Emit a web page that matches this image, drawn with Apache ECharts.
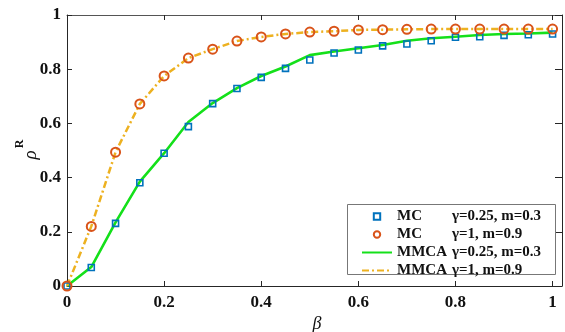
<!DOCTYPE html>
<html>
<head>
<meta charset="utf-8">
<script src="https://cdn.jsdelivr.net/npm/echarts@6/dist/echarts.min.js"></script>
<style>
  html, body { margin: 0; padding: 0; background: #fff; }
  #chart { width: 565px; height: 332px; }
</style>
</head>
<body>
<div id="chart"></div>
<script>
// beta values shared by every curve
const beta = [0, 0.05, 0.1, 0.15, 0.2, 0.25, 0.3, 0.35, 0.4, 0.45, 0.5,
              0.55, 0.6, 0.65, 0.7, 0.75, 0.8, 0.85, 0.9, 0.95, 1];

// MC simulations (markers)
const mcLow = [0, 0.068, 0.231, 0.381, 0.49, 0.588, 0.673, 0.729, 0.770, 0.803, 0.834,
               0.860, 0.871, 0.886, 0.893, 0.905, 0.918, 0.920, 0.925, 0.927, 0.930];
const mcHigh = [0, 0.22, 0.494, 0.672, 0.775, 0.841, 0.874, 0.904, 0.919, 0.930, 0.937,
                0.940, 0.945, 0.946, 0.947, 0.948, 0.948, 0.948, 0.948, 0.948, 0.948];

// MMCA predictions (lines)
const mmcaLow = [0, 0.07, 0.235, 0.385, 0.49, 0.605, 0.675, 0.73, 0.775, 0.81, 0.852,
                 0.865, 0.877, 0.889, 0.905, 0.914, 0.92, 0.926, 0.93, 0.932, 0.935];
const mmcaHigh = mcHigh.slice();

const yTicks = [0, 0.2, 0.4, 0.6, 0.8, 1];
const xTicks = [0, 0.2, 0.4, 0.6, 0.8, 1];

const legendMethod = ["MC", "MC", "MMCA", "MMCA"];
const legendParam = ["\u03b3=0.25, m=0.3", "\u03b3=1, m=0.9", "\u03b3=0.25, m=0.3", "\u03b3=1, m=0.9"];
const names = legendMethod.map((m, i) => m + "|" + legendParam[i]);

const AXIS = "#262626";
const FONT = "'Liberation Serif', 'Times New Roman', serif";
const X_MAX = 1.0194; // plot runs a little past beta=1, right frame is cut off

const pairs = (ys) => beta.map((b, i) => [b, ys[i]]);

const tickFmt = (ticks) => (v) => {
  const hit = ticks.find((t) => Math.abs(t - v) < 1e-6);
  return hit === undefined ? "" : String(hit);
};

const axisBase = {
  type: "value",
  axisLine: { show: true, onZero: false, lineStyle: { color: AXIS, width: 1 } },
  axisTick: { show: true, inside: true, length: 5, lineStyle: { color: AXIS } },
  splitLine: { show: false },
};

const chart = echarts.init(document.getElementById("chart"), null, { renderer: "canvas" });

chart.setOption({
  animation: false,
  backgroundColor: "#fff",
  grid: { left: 67, top: 15, right: 0, bottom: 46, containLabel: false },
  xAxis: [
    {
      ...axisBase, position: "bottom", min: 0, max: X_MAX, interval: 0.2,
      axisLabel: { color: "#111", fontFamily: FONT, fontWeight: "bold", fontSize: 17, margin: 8,
                   formatter: tickFmt(xTicks) },
    },
    {
      ...axisBase, position: "top", min: 0, max: X_MAX, interval: 0.2,
      axisLine: { show: true, onZero: false, lineStyle: { color: "#555", width: 1 } },
      axisLabel: { show: false },
    },
  ],
  yAxis: [
    {
      ...axisBase, position: "left", min: 0, max: 1, interval: 0.2,
      axisLabel: { color: "#111", fontFamily: FONT, fontWeight: "bold", fontSize: 17, margin: 6,
                   formatter: tickFmt(yTicks) },
    },
    {
      ...axisBase, position: "right", min: 0, max: 1, interval: 0.2,
      axisTick: { show: true, inside: true, length: 7, lineStyle: { color: AXIS } },
      axisLabel: { show: false },
    },
  ],
  legend: {
    orient: "vertical",
    left: 361,
    top: 209,
    itemWidth: 30,
    itemHeight: 8,
    itemGap: 3,
    padding: 0,
    z: 10,
    data: [
      { name: names[0], lineStyle: { opacity: 0 } },
      { name: names[1], lineStyle: { opacity: 0 } },
      { name: names[2], itemStyle: { opacity: 0 } },
      { name: names[3], itemStyle: { opacity: 0 } },
    ],
    formatter: (n) => {
      const [m, p] = n.split("|");
      return "{m|" + m + "}{p|" + p + "}";
    },
    textStyle: {
      rich: {
        m: { width: 55, fontFamily: FONT, fontWeight: "bold", fontSize: 15, color: "#111", lineHeight: 14 },
        p: { fontFamily: FONT, fontWeight: "bold", fontSize: 15, color: "#111", lineHeight: 14 },
      },
    },
  },
  graphic: [
    {
      type: "rect", z: 8, silent: true,
      shape: { x: 347.5, y: 204.5, width: 208, height: 70 },
      style: { fill: "#fff", stroke: "#777", lineWidth: 1 },
    },
    {
      type: "text", x: 317, y: 324, z: 10,
      style: { text: "\u03b2", font: "italic 18px " + FONT, fill: "#111", align: "center", verticalAlign: "middle" },
    },
    {
      type: "text", x: 31, y: 155, rotation: Math.PI / 2, z: 10,
      style: { text: "\u03c1", font: "italic 19px " + FONT, fill: "#111", align: "center", verticalAlign: "middle" },
    },
    {
      type: "text", x: 20, y: 144, rotation: Math.PI / 2, z: 10,
      style: { text: "R", font: "bold 12px " + FONT, fill: "#111", align: "center", verticalAlign: "middle" },
    },
  ],
  series: [
    {
      name: names[0], type: "line", data: pairs(mcLow), z: 5,
      symbol: "rect", symbolSize: 6, showSymbol: true,
      lineStyle: { width: 0, opacity: 0 },
      itemStyle: { color: "rgba(255,255,255,0)", borderColor: "#0072BD", borderWidth: 1.6 },
    },
    {
      name: names[1], type: "line", data: pairs(mcHigh), z: 6,
      symbol: "circle", symbolSize: 9, showSymbol: true,
      lineStyle: { width: 0, opacity: 0 },
      itemStyle: { color: "rgba(255,255,255,0)", borderColor: "#D95319", borderWidth: 2 },
    },
    {
      name: names[2], type: "line", data: pairs(mmcaLow), z: 3,
      symbol: "none",
      lineStyle: { color: "#14E01A", width: 2.6 },
      itemStyle: { color: "#14E01A" },
    },
    {
      name: names[3], type: "line", data: pairs(mmcaHigh), z: 3,
      symbol: "none",
      lineStyle: { color: "#EDB120", width: 2.5, type: [7, 3, 2, 3] },
      itemStyle: { color: "#EDB120" },
    },
  ],
});
</script>
</body>
</html>
